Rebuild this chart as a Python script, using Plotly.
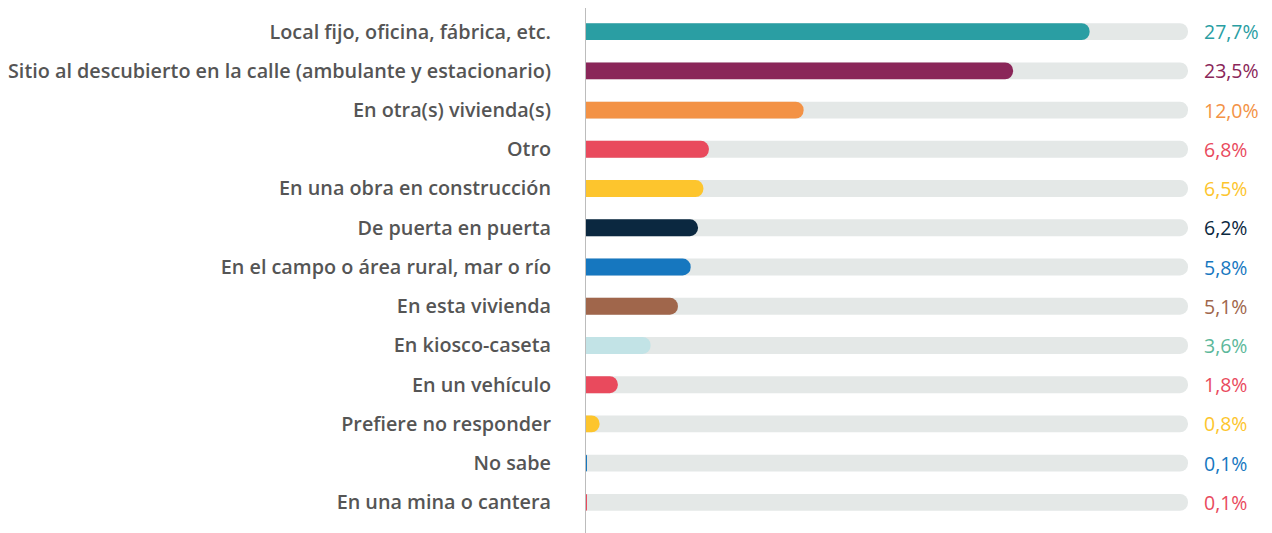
import plotly.graph_objects as go

categories = [
    "Local fijo, oficina, fábrica, etc.",
    "Sitio al descubierto en la calle (ambulante y estacionario)",
    "En otra(s) vivienda(s)",
    "Otro",
    "En una obra en construcción",
    "De puerta en puerta",
    "En el campo o área rural, mar o río",
    "En esta vivienda",
    "En kiosco-caseta",
    "En un vehículo",
    "Prefiere no responder",
    "No sabe",
    "En una mina o cantera",
]
values = [27.7, 23.5, 12.0, 6.8, 6.5, 6.2, 5.8, 5.1, 3.6, 1.8, 0.8, 0.1, 0.1]
value_labels = ["27,7%", "23,5%", "12,0%", "6,8%", "6,5%", "6,2%", "5,8%",
                "5,1%", "3,6%", "1,8%", "0,8%", "0,1%", "0,1%"]
bar_colors = ["#2a9ea3", "#8a2659", "#f39245", "#e94a5d", "#fdc52d", "#0b2840",
              "#1677bf", "#a0664b", "#c2e3e6", "#e94a5d", "#fdc52d", "#1677bf", "#e94a5d"]
label_colors = ["#2a9ea3", "#8a2659", "#f39245", "#e94a5d", "#fdc52d", "#0b2840",
                "#1677bf", "#a0664b", "#5cb89a", "#e94a5d", "#fdc52d", "#1677bf", "#e94a5d"]
track_max = 33.1

BAR_W = 0.43
fig = go.Figure()
# grey tracks (rounded right end), on the base axis
fig.add_trace(go.Bar(y=categories, x=[track_max] * len(categories), orientation="h",
                     marker=dict(color="#e4e8e7", cornerradius=9, line=dict(width=0)),
                     width=BAR_W, yaxis="y", hoverinfo="skip", showlegend=False))
# value bars, on an overlaying axis drawn above
fig.add_trace(go.Bar(y=categories, x=values, orientation="h",
                     marker=dict(color=bar_colors, cornerradius=9, line=dict(width=0)),
                     width=BAR_W, yaxis="y2", showlegend=False))

for cat, lab, col in zip(categories, value_labels, label_colors):
    fig.add_annotation(x=1, xref="x domain", y=cat, yref="y", text=lab,
                       showarrow=False, xanchor="left", xshift=14,
                       font=dict(family="Open Sans", size=19.5, color=col))

fig.add_shape(type="line", xref="x", yref="paper", x0=0, x1=0, y0=-0.025, y1=1.008,
              line=dict(color="#bcbcbc", width=2))

yax = dict(categoryorder="array", categoryarray=categories, autorange="reversed",
           showgrid=False, zeroline=False, showline=False, ticks="", automargin=False)
fig.update_layout(
    width=1264, height=525,
    margin=dict(l=577, r=84, t=4, b=11),
    barmode="overlay",
    plot_bgcolor="white", paper_bgcolor="white",
    xaxis=dict(range=[0, track_max], visible=False, fixedrange=True, automargin=False),
    yaxis=dict(**yax, ticklabelstandoff=33,
               tickfont=dict(family="Open Sans", size=19.8, color="#555555", weight=600)),
    yaxis2=dict(**yax, overlaying="y", matches="y", showticklabels=False),
)

fig.write_html("out.html")
